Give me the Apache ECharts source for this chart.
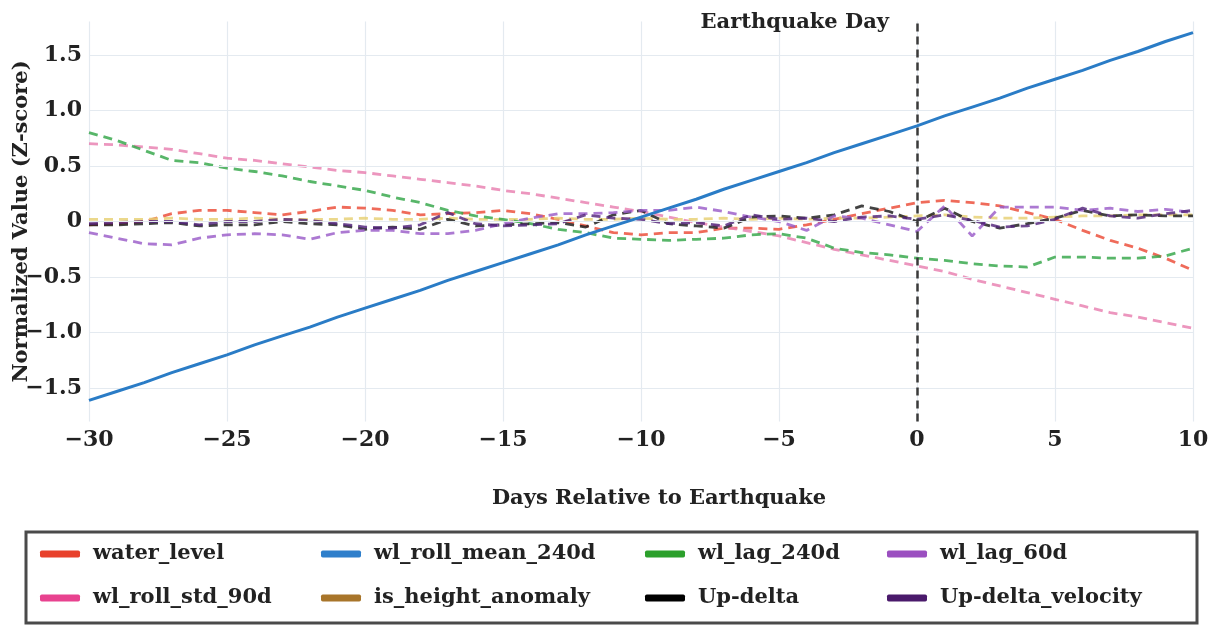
<!DOCTYPE html>
<html>
<head>
<meta charset="utf-8">
<script src="https://cdn.jsdelivr.net/npm/echarts@6/dist/echarts.min.js"></script>
<style>
html,body{margin:0;padding:0;background:#fff;}
#chart{width:1212px;height:626px;}
</style>
</head>
<body>
<div id="chart"></div>
<script>
// ---- data (days relative to earthquake, -30..10) ----
const days = [-30,-29,-28,-27,-26,-25,-24,-23,-22,-21,-20,-19,-18,-17,-16,-15,-14,-13,-12,-11,-10,-9,-8,-7,-6,-5,-4,-3,-2,-1,0,1,2,3,4,5,6,7,8,9,10];

const water_level = [-0.03,-0.02,0.00,0.07,0.10,0.10,0.08,0.06,0.09,0.13,0.12,0.10,0.06,0.07,0.08,0.10,0.07,0.02,-0.04,-0.10,-0.12,-0.10,-0.10,-0.06,-0.06,-0.07,-0.03,0.02,0.07,0.12,0.17,0.19,0.17,0.14,0.08,0.02,-0.08,-0.17,-0.24,-0.33,-0.44];
const wl_roll_std_90d = [0.70,0.69,0.67,0.65,0.61,0.57,0.55,0.52,0.49,0.46,0.44,0.41,0.38,0.35,0.32,0.28,0.25,0.21,0.17,0.13,0.09,0.04,-0.01,-0.05,-0.09,-0.13,-0.19,-0.25,-0.30,-0.35,-0.40,-0.45,-0.52,-0.58,-0.64,-0.70,-0.76,-0.82,-0.86,-0.91,-0.96];
const wl_roll_mean_240d = [-1.61,-1.53,-1.45,-1.36,-1.28,-1.20,-1.11,-1.03,-0.95,-0.86,-0.78,-0.70,-0.62,-0.53,-0.45,-0.37,-0.29,-0.21,-0.12,-0.04,0.04,0.12,0.20,0.29,0.37,0.45,0.53,0.62,0.70,0.78,0.86,0.95,1.03,1.11,1.20,1.28,1.36,1.45,1.53,1.62,1.70];
const is_height_anomaly = [0.02,0.02,0.02,0.03,0.02,0.02,0.03,0.02,0.02,0.02,0.03,0.02,0.02,0.03,0.02,0.02,0.02,0.03,0.02,0.02,0.03,0.02,0.02,0.03,0.02,0.03,0.02,0.03,0.03,0.04,0.05,0.06,0.04,0.03,0.03,0.04,0.05,0.05,0.06,0.06,0.06];
const wl_lag_240d = [0.80,0.73,0.64,0.55,0.53,0.48,0.45,0.41,0.36,0.32,0.28,0.22,0.17,0.10,0.05,0.02,-0.02,-0.07,-0.10,-0.15,-0.16,-0.17,-0.16,-0.15,-0.12,-0.11,-0.15,-0.24,-0.28,-0.30,-0.33,-0.35,-0.38,-0.40,-0.41,-0.32,-0.32,-0.33,-0.33,-0.31,-0.24];
const up_delta = [-0.03,-0.03,-0.02,-0.01,-0.04,-0.03,-0.03,0.00,-0.02,-0.03,-0.07,-0.05,-0.07,0.02,-0.04,-0.03,-0.02,-0.01,-0.05,0.06,0.10,-0.02,-0.04,-0.06,0.04,0.05,0.03,0.06,0.14,0.09,0.00,0.12,0.00,-0.06,-0.02,0.03,0.10,0.05,0.06,0.05,0.05];
const wl_lag_60d = [-0.10,-0.15,-0.20,-0.21,-0.15,-0.12,-0.11,-0.12,-0.16,-0.10,-0.08,-0.08,-0.11,-0.11,-0.08,-0.02,0.03,0.07,0.07,0.08,0.10,0.10,0.13,0.09,0.04,0.00,-0.08,0.05,0.03,-0.03,-0.09,0.14,-0.13,0.13,0.13,0.13,0.10,0.12,0.09,0.11,0.08];
const up_delta_velocity = [-0.02,-0.01,0.00,0.00,-0.03,0.00,0.00,0.02,0.01,-0.02,-0.05,-0.06,-0.03,0.08,-0.02,-0.04,-0.03,-0.02,0.06,0.03,0.02,-0.02,-0.01,-0.04,0.06,0.02,0.03,0.00,0.04,0.05,0.02,0.06,0.01,-0.05,-0.04,0.02,0.12,0.05,0.03,0.07,0.10];

const yTicks = [-1.5,-1.0,-0.5,0,0.5,1.0,1.5];
const earthquakeDay = 0;

const FONT = '"DejaVu Serif", serif';
const pair = a => days.map((d,i)=>[d,a[i]]);

const seriesDefs = [
  {name:'water_level', data:water_level, color:'#e8412c', line:'#ec4a36'},
  {name:'wl_roll_std_90d', data:wl_roll_std_90d, color:'#e8428f', line:'#e87fb0'},
  {name:'wl_roll_mean_240d', data:wl_roll_mean_240d, color:'#2f7fcb', line:'#2a7cc6', solid:true},
  {name:'is_height_anomaly', data:is_height_anomaly, color:'#a8752a', line:'#e6cf72'},
  {name:'wl_lag_240d', data:wl_lag_240d, color:'#2ca02c', line:'#33a648'},
  {name:'Up-delta', data:up_delta, color:'#000000', line:'#1a1a1a'},
  {name:'wl_lag_60d', data:wl_lag_60d, color:'#9b4fc0', line:'#9a5cc8'},
  {name:'Up-delta_velocity', data:up_delta_velocity, color:'#4a1a6b', line:'#52237a'}
];

const series = seriesDefs.map(s => ({
  name: s.name,
  type: 'line',
  data: pair(s.data),
  showSymbol: false,
  symbol: 'none',
  color: s.color,
  itemStyle: {color: s.color},
  lineStyle: s.solid ? {color: s.line, width: 3} : {color: s.line, width: 2.8, type: [9,6], opacity: 0.82},
  z: s.solid ? 5 : 3,
  animation: false
}));

// gridlines + earthquake marker
series.unshift({
  name: '_grid',
  type: 'line',
  data: [],
  silent: true,
  z: 1,
  animation: false,
  markLine: {
    silent: true,
    symbol: 'none',
    label: {show: false},
    lineStyle: {color: '#e4eaf0', width: 1.2, type: 'solid'},
    data: yTicks.map(v => ({yAxis: v})),
    animation: false
  }
});
series.push({
  name: '_eq',
  type: 'line',
  data: [],
  silent: true,
  z: 6,
  animation: false,
  markLine: {
    silent: true,
    symbol: 'none',
    label: {show: false},
    lineStyle: {color: '#3a3a3a', width: 2.5, type: [8,5]},
    data: [{xAxis: earthquakeDay}],
    animation: false
  },
  markPoint: {
    symbol: 'circle',
    symbolSize: 0,
    data: [{coord: [earthquakeDay, 1.79]}],
    label: {
      show: true,
      formatter: 'Earthquake Day',
      position: 'left',
      distance: 28,
      color: '#222',
      fontFamily: FONT,
      fontWeight: 'bold',
      fontSize: 21
    },
    animation: false
  }
});

const cols = [
  {names:['water_level','wl_roll_std_90d'], left:35},
  {names:['wl_roll_mean_240d','is_height_anomaly'], left:316},
  {names:['wl_lag_240d','Up-delta'], left:640},
  {names:['wl_lag_60d','Up-delta_velocity'], left:882}
];
const legends = cols.map(c => ({
  data: c.names,
  left: c.left,
  top: 538,
  orient: 'vertical',
  icon: 'roundRect',
  itemWidth: 40,
  itemHeight: 7,
  itemGap: 22,
  selectedMode: false,
  itemStyle: {borderWidth: 0},
  textStyle: {fontFamily: FONT, fontWeight: 'bold', fontSize: 21, color: '#222', padding: [0,0,0,8], lineHeight: 22}
}));

const chart = echarts.init(document.getElementById('chart'), null, {renderer: 'canvas'});
chart.setOption({
  backgroundColor: '#ffffff',
  animation: false,
  grid: {left: 89, right: 19, top: 21.5, bottom: 204.5, containLabel: false, outerBoundsMode: 'none'},
  xAxis: {
    type: 'value',
    min: -30, max: 10, interval: 5,
    name: 'Days Relative to Earthquake',
    nameLocation: 'middle',
    nameGap: 67,
    nameTextStyle: {fontFamily: FONT, fontWeight: 'bold', fontSize: 21, color: '#222', padding: [0,0,0,36]},
    axisLine: {show: false},
    axisTick: {show: false},
    axisLabel: {
      fontFamily: FONT, fontWeight: 'bold', fontSize: 22, color: '#222', margin: 8,
      formatter: v => (v < 0 ? '\u2212' : '') + Math.abs(v)
    },
    splitLine: {show: true, lineStyle: {color: '#e4eaf0', width: 1.2}}
  },
  yAxis: {
    type: 'value',
    min: -1.8, max: 1.8, interval: 0.1,
    name: 'Normalized Value (Z-score)',
    nameLocation: 'middle',
    nameGap: 57,
    nameMoveOverlap: false,
    nameTextStyle: {fontFamily: FONT, fontWeight: 'bold', fontSize: 21, color: '#222'},
    axisLine: {show: false},
    axisTick: {show: false},
    splitLine: {show: false},
    axisLabel: {
      fontFamily: FONT, fontWeight: 'bold', fontSize: 22, color: '#222', margin: 7,
      formatter: v => {
        const r = Math.round(v * 2);
        if (Math.abs(v * 2 - r) > 1e-6) return '';
        const val = r / 2;
        if (val === 0) return '0';
        return (val < 0 ? '\u2212' : '') + Math.abs(val).toFixed(1);
      }
    }
  },
  legend: legends,
  graphic: [{
    type: 'rect',
    shape: {x: 26, y: 532, width: 1171, height: 91},
    style: {fill: 'none', stroke: '#4a4a4a', lineWidth: 3},
    z: -1
  }],
  series: series
});
</script>
</body>
</html>
